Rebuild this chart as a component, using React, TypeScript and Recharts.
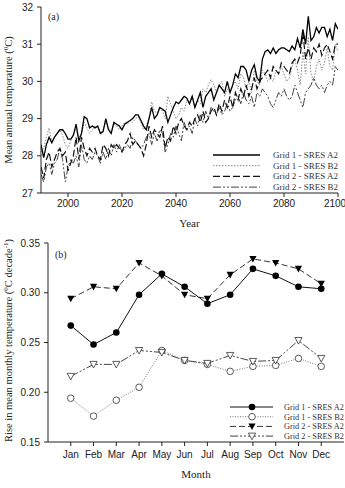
import React from 'react';
import { LineChart, Line, XAxis, YAxis, Customized } from 'recharts';

// ---------- Panel (a): annual mean temperature, 1990-2100 ----------
const START_YEAR = 1990;
const g1A2 = [
  28.3, 27.95, 28.3, 28.5, 28.35, 28.5, 28.6, 28.7, 28.7, 28.6,
  28.45, 28.45, 28.55, 28.85, 28.4, 28.6, 29.05, 29.0, 28.75, 28.8,
  28.75, 28.8, 28.6, 28.65, 29.0, 28.7, 28.6, 28.9, 28.85, 28.8,
  28.7, 28.85, 28.9, 28.95, 29.0, 29.1, 29.1, 28.95, 28.8, 28.7,
  29.0, 29.3, 29.0, 29.1, 29.3, 29.25, 29.2, 28.9, 29.1, 29.3,
  29.45, 29.4, 29.5, 29.6, 29.55, 29.4, 29.6, 29.3, 29.5, 29.7,
  29.3, 29.6, 29.7, 29.8, 29.5, 29.7, 29.9, 29.8, 29.7, 30.0,
  29.7, 29.9, 30.2, 30.1, 30.4, 30.4, 30.3, 30.0, 30.3, 30.45,
  30.1, 30.0, 30.6, 30.8, 30.85, 30.75, 30.9, 30.75, 30.85, 30.9,
  30.9, 30.85, 30.8, 30.95, 30.85, 31.15, 30.9, 31.4, 31.0, 31.75,
  31.1, 31.2, 31.45, 31.3, 31.45, 31.45, 31.2, 31.4, 31.1, 31.55,
  31.4,
];
const g1B2 = [
  28.1, 28.2, 28.5, 28.75, 28.4, 28.5, 28.6, 28.7, 28.55, 28.3,
  28.2, 28.4, 28.6, 28.7, 28.5, 28.6, 28.9, 28.75, 28.6, 28.7,
  28.8, 28.75, 28.6, 28.7, 28.9, 28.75, 28.65, 28.85, 28.8, 28.7,
  28.8, 28.9, 28.85, 28.95, 28.9, 29.0, 29.05, 28.9, 28.7, 28.8,
  29.0, 29.45, 29.2, 29.15, 29.3, 29.2, 29.0, 29.6, 29.4, 29.2,
  29.0, 29.1, 29.3, 29.2, 29.5, 29.4, 29.6, 29.3, 29.5, 29.4,
  29.8, 29.7, 29.9, 30.05, 29.9, 29.7, 29.9, 30.0, 29.6, 29.8,
  29.7, 29.9, 30.0, 29.8, 30.2, 30.1, 29.8, 30.0, 29.7, 30.3,
  30.0, 29.9, 30.3, 30.2, 30.0, 30.1, 30.0, 30.3, 30.2, 30.4,
  30.2, 30.0, 30.1, 30.4, 30.6, 30.3, 29.9, 30.8, 30.2, 31.2,
  30.2, 30.0, 30.4, 30.6, 30.3, 30.5, 30.9, 30.4, 30.3, 31.0,
  30.8,
];
const g2A2 = [
  27.7, 27.4, 27.9, 28.1, 27.7, 27.9, 28.1, 28.2, 28.0, 28.1,
  27.6, 27.8, 28.0, 28.5, 27.9, 28.5, 28.2, 28.0, 28.2, 28.1,
  28.2, 28.0, 27.9, 28.3, 28.2, 28.0, 28.3, 28.2, 28.3, 28.2,
  28.1, 28.3, 28.4, 28.6, 28.3, 28.4, 28.3, 28.2, 28.0, 28.3,
  28.8, 28.5, 28.7, 28.6, 28.5, 28.8, 28.2, 28.5, 28.4, 28.8,
  28.6, 28.9, 29.0, 28.8, 28.7, 28.9, 28.8, 29.0, 29.1, 28.9,
  29.2, 28.9, 29.0, 29.2, 29.3, 29.1, 29.4, 29.2, 29.5, 29.3,
  29.6, 29.3, 29.7, 29.5, 29.8, 29.6, 29.9, 29.6, 29.8, 30.1,
  29.8, 30.0, 30.1, 30.2, 30.3, 30.1, 30.4, 30.3, 30.2, 30.5,
  30.4, 30.3, 30.2, 30.5, 30.6, 30.5, 30.7, 31.3, 30.6, 30.9,
  30.6, 30.9, 30.8, 31.0, 30.7, 30.9, 31.0, 30.8, 30.6, 31.0,
  31.0,
];
const g2B2 = [
  27.5, 27.3, 27.7, 27.8, 27.5, 27.8, 27.9, 28.2, 27.9, 27.3,
  27.7, 27.9, 27.8, 28.0, 27.7, 28.3, 27.9, 27.8, 28.0, 27.9,
  28.1, 28.0, 27.8, 28.1, 27.9, 28.2, 28.0, 28.3, 28.1, 28.3,
  28.1, 28.2, 28.3, 28.2, 28.5, 28.4, 28.3, 28.2, 28.3, 28.5,
  28.6, 28.3, 28.6, 28.4, 28.7, 28.6, 28.1, 28.3, 28.6, 28.5,
  28.8, 28.6, 28.4, 28.9, 28.7, 28.8, 28.6, 29.0, 28.8, 29.1,
  28.9, 29.2, 29.0, 29.3, 29.2, 29.1, 29.3, 29.1, 29.2, 29.4,
  29.2, 29.3, 29.5, 29.6, 29.4, 29.7, 29.5, 29.4, 29.6, 29.3,
  29.7, 29.6, 29.8, 29.7, 29.6, 29.4, 29.3, 29.5, 29.7, 29.6,
  29.8, 29.6, 29.5, 29.6, 29.9, 29.7, 29.5, 29.3, 29.7, 29.8,
  29.9, 30.1, 29.9, 29.8, 29.9, 29.7, 29.9, 30.0, 29.9, 30.4,
  30.3,
];
const yearTicks = [2000, 2020, 2040, 2060, 2080, 2100];
const tempTicks = [27, 28, 29, 30, 31, 32];

// ---------- Panel (b): monthly rate of rise ----------
const months = ['Jan', 'Feb', 'Mar', 'Apr', 'May', 'Jun', 'Jul', 'Aug', 'Sep', 'Oct', 'Nov', 'Dec'];
const m1A2 = [0.267, 0.248, 0.260, 0.298, 0.319, 0.306, 0.289, 0.298, 0.324, 0.317, 0.306, 0.304];
const m1B2 = [0.194, 0.176, 0.192, 0.205, 0.242, 0.232, 0.228, 0.221, 0.226, 0.227, 0.234, 0.226];
const m2A2 = [0.294, 0.306, 0.304, 0.330, 0.317, 0.298, 0.294, 0.318, 0.334, 0.330, 0.324, 0.309];
const m2B2 = [0.216, 0.228, 0.228, 0.242, 0.240, 0.232, 0.229, 0.237, 0.231, 0.232, 0.252, 0.234];
const monthTicks = [1, 2, 3, 4, 5, 6, 7, 8, 9, 10, 11, 12];
const rateTicks = [0.15, 0.2, 0.25, 0.3, 0.35];

const seriesNames = ['Grid 1 - SRES A2', 'Grid 1 - SRES B2', 'Grid 2 - SRES A2', 'Grid 2 - SRES B2'];

const annualData = g1A2.map((v, i) => ({
  year: START_YEAR + i,
  g1A2: v,
  g1B2: g1B2[i],
  g2A2: g2A2[i],
  g2B2: g2B2[i],
}));

const monthlyData = months.map((m, i) => ({
  idx: i + 1,
  month: m,
  g1A2: m1A2[i],
  g1B2: m1B2[i],
  g2A2: m2A2[i],
  g2B2: m2B2[i],
}));

// ---------- styles ----------
const SERIF = '"Liberation Serif", "Times New Roman", serif';
const SANS = '"Liberation Sans", Arial, sans-serif';
const AX = '#222';

const styleA = [
  { key: 'g1A2', stroke: '#000', width: 1.3, dash: undefined as string | undefined },
  { key: 'g1B2', stroke: '#888', width: 1, dash: '1.5 1.5' },
  { key: 'g2A2', stroke: '#111', width: 1.2, dash: '7 3' },
  { key: 'g2B2', stroke: '#444', width: 1, dash: '8 2 2 2 2 2' },
];

const styleB = [
  { key: 'g1A2', stroke: '#111', width: 1, dash: undefined as string | undefined },
  { key: 'g1B2', stroke: '#777', width: 1, dash: '1 1.5' },
  { key: 'g2A2', stroke: '#333', width: 1, dash: '6 3' },
  { key: 'g2B2', stroke: '#444', width: 1, dash: '8 2 2 2 2 2' },
];

const marker = (kind: number, cx: number, cy: number, k?: any) => {
  if (cx == null || cy == null) return <g key={k} />;
  if (kind === 0) return <circle key={k} cx={cx} cy={cy} r={3.3} fill="#000" />;
  if (kind === 1) return <circle key={k} cx={cx} cy={cy} r={3.3} fill="#fff" stroke="#333" strokeWidth={0.8} />;
  const d = `M${cx - 3.6},${cy - 3} L${cx + 3.6},${cy - 3} L${cx},${cy + 3.6} Z`;
  if (kind === 2) return <path key={k} d={d} fill="#000" />;
  return <path key={k} d={d} fill="#fff" stroke="#333" strokeWidth={0.8} />;
};

const makeDot = (kind: number) => (props: any) => marker(kind, props.cx, props.cy, props.key ?? `${kind}-${props.index}`);

// ---------- custom labels ----------
const YTitleA = (props: any) => {
  const vb = props.viewBox || {};
  const cy = vb.y + vb.height / 2;
  const cx = 12;
  return (
    <text x={cx} y={cy} transform={`rotate(-90 ${cx} ${cy})`} textAnchor="middle" fontFamily={SERIF} fontSize={10.5} fill="#222">
      Mean annual temperature (<tspan dy={-4} fontSize={7}>0</tspan><tspan dy={4}>C)</tspan>
    </text>
  );
};

const YTitleB = (props: any) => {
  const vb = props.viewBox || {};
  const cy = vb.y + vb.height / 2 - 2;
  const cx = 12;
  return (
    <text x={cx} y={cy} transform={`rotate(-90 ${cx} ${cy})`} textAnchor="middle" fontFamily={SERIF} fontSize={10.5} fill="#222">
      Rise in mean monthly temperature (<tspan dy={-4} fontSize={7}>0</tspan>
      <tspan dy={4}>C decade</tspan><tspan dy={-4} fontSize={7}>-1</tspan><tspan dy={4}>)</tspan>
    </text>
  );
};

const XTitle = (text: string, off: number) => (props: any) => {
  const vb = props.viewBox || {};
  return (
    <text x={vb.x + vb.width / 2} y={vb.y + off} textAnchor="middle" fontFamily={SERIF} fontSize={11} fill="#222">
      {text}
    </text>
  );
};

const LegendA = () => (
  <g>
    <text x={48} y={20} fontFamily={SERIF} fontSize={10} fill="#222">(a)</text>
    {styleA.map((s, i) => {
      const y = 155 + i * 10.7;
      return (
        <g key={s.key}>
          <line x1={213} x2={260} y1={y} y2={y} stroke={s.stroke} strokeWidth={s.width} strokeDasharray={s.dash} />
          <text x={273} y={y + 3} fontFamily={SERIF} fontSize={9} fill="#333">{seriesNames[i]}</text>
        </g>
      );
    })}
  </g>
);

const LegendB = () => (
  <g>
    <text x={55} y={28} fontFamily={SERIF} fontSize={10} fill="#222">(b)</text>
    {styleB.map((s, i) => {
      const y = 177 + i * 9.7;
      return (
        <g key={s.key}>
          <line x1={230} x2={273} y1={y} y2={y} stroke={s.stroke} strokeWidth={s.width} strokeDasharray={s.dash} />
          {marker(i, 252, y)}
          <text x={284} y={y + 3} fontFamily={SERIF} fontSize={8.3} fill="#333">{seriesNames[i]}</text>
        </g>
      );
    })}
  </g>
);

const tickStyle = { fontSize: 10, fontFamily: SANS, fill: AX };

export default function App() {
  const orderA = [1, 3, 2, 0];
  const orderB = [1, 3, 2, 0];
  return (
    <div style={{ position: 'absolute', left: 0, top: 0, width: 345, height: 488, background: '#fff' }}>
      <div style={{ position: 'absolute', left: 0, top: 0 }}>
        <LineChart width={345} height={230} data={annualData} margin={{ top: 7, right: 7, bottom: 0, left: 0 }}>
          <XAxis
            dataKey="year"
            type="number"
            domain={[1990, 2100]}
            ticks={yearTicks}
            allowDataOverflow
            height={37}
            tickSize={4}
            tickMargin={3}
            tick={tickStyle}
            axisLine={{ stroke: AX }}
            tickLine={{ stroke: AX }}
            label={{ content: XTitle('Year', 33.5) }}
          />
          <XAxis xAxisId="top" orientation="top" type="number" dataKey="year" domain={[1990, 2100]} height={0} tick={false} tickLine={false} axisLine={{ stroke: AX }} />
          <YAxis
            type="number"
            domain={[27, 32]}
            ticks={tempTicks}
            allowDataOverflow
            width={41}
            tickSize={4}
            tickMargin={4}
            tick={tickStyle}
            axisLine={{ stroke: AX }}
            tickLine={{ stroke: AX }}
            label={{ content: YTitleA }}
          />
          <YAxis yAxisId="right" orientation="right" type="number" domain={[27, 32]} width={0} tick={false} tickLine={false} axisLine={{ stroke: AX }} />
          {orderA.map((i) => {
            const s = styleA[i];
            return (
              <Line
                key={s.key}
                dataKey={s.key}
                name={seriesNames[i]}
                type="linear"
                stroke={s.stroke}
                strokeWidth={s.width}
                strokeDasharray={s.dash}
                dot={false}
                activeDot={false}
                isAnimationActive={false}
              />
            );
          })}
          <Customized component={LegendA} />
        </LineChart>
      </div>
      <div style={{ position: 'absolute', left: 0, top: 230 }}>
        <LineChart width={345} height={258} data={monthlyData} margin={{ top: 13, right: 1, bottom: 0, left: 0 }}>
          <XAxis
            dataKey="idx"
            type="number"
            domain={[0, 13]}
            ticks={monthTicks}
            tickFormatter={(v: number) => months[v - 1]}
            interval={0}
            height={46}
            tickSize={4}
            tickMargin={5}
            tick={tickStyle}
            axisLine={{ stroke: AX }}
            tickLine={{ stroke: AX }}
            label={{ content: XTitle('Month', 35.5) }}
          />
          <XAxis xAxisId="top" orientation="top" type="number" dataKey="idx" domain={[0, 13]} height={0} tick={false} tickLine={false} axisLine={{ stroke: AX }} />
          <YAxis
            type="number"
            domain={[0.15, 0.35]}
            ticks={rateTicks}
            tickFormatter={(v: number) => v.toFixed(2)}
            allowDataOverflow
            width={48}
            tickSize={4}
            tickMargin={4}
            tick={tickStyle}
            axisLine={{ stroke: AX }}
            tickLine={{ stroke: AX }}
            label={{ content: YTitleB }}
          />
          <YAxis yAxisId="right" orientation="right" type="number" domain={[0.15, 0.35]} width={0} tick={false} tickLine={false} axisLine={{ stroke: AX }} />
          {orderB.map((i) => {
            const s = styleB[i];
            return (
              <Line
                key={s.key}
                dataKey={s.key}
                name={seriesNames[i]}
                type="linear"
                stroke={s.stroke}
                strokeWidth={s.width}
                strokeDasharray={s.dash}
                dot={makeDot(i)}
                activeDot={false}
                isAnimationActive={false}
              />
            );
          })}
          <Customized component={LegendB} />
        </LineChart>
      </div>
    </div>
  );
}
